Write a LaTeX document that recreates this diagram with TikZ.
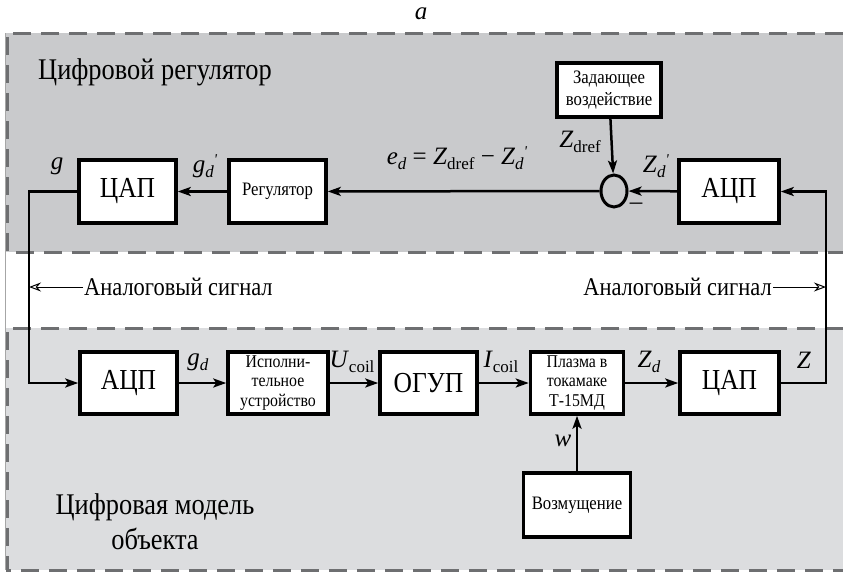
\documentclass[tikz,border=0pt]{standalone}
\usepackage{fontspec}
\setmainfont{Liberation Serif}[FakeStretch=0.88]
\newfontfamily\lblfont{Liberation Serif}
\usetikzlibrary{arrows.meta,shapes.geometric}
\definecolor{topgray}{HTML}{C9CACC}
\definecolor{botgray}{HTML}{DCDDDF}
\definecolor{dashgray}{HTML}{6E6F71}
\newcommand\ssub[1]{\raisebox{-0.45ex}{\fontsize{17}{17}\selectfont #1}}
\newcommand\pmark{\raisebox{8pt}{\fontsize{15}{15}\selectfont\textit{\textquotesingle}}}
\begin{document}
\begin{tikzpicture}[x=1pt,y=-1pt,
  box/.style={draw=black,line width=3.5pt,fill=white,inner sep=0pt,align=center},
  bigbox/.style={box,font=\fontsize{29}{30}\selectfont},
  smallbox/.style={box,font=\fontsize{19}{22}\selectfont},
  tribox/.style={box,font=\fontsize{18}{19.5}\selectfont},
  lbl/.style={inner sep=0pt,font=\lblfont\fontsize{25}{27}\selectfont},
  region/.style={font=\fontsize{30}{35}\selectfont,align=center,inner sep=0pt},
  analog/.style={font=\fontsize{25.5}{27}\selectfont,inner sep=1pt},
  conn/.style={line width=2.5pt,-{Stealth[length=13pt,width=9pt,inset=3pt]}},
  loopline/.style={line width=2.5pt,-{Stealth[length=13pt,width=9pt,inset=3pt]}},
  analogarrow/.style={line width=1pt,-{Stealth[open,length=12pt,width=9pt,inset=4pt]}},
  dsh/.style={draw=dashgray,line width=3pt,dash pattern=on 18pt off 10pt},
]
\useasboundingbox (0,0) rectangle (843,574);
% backgrounds
\fill[topgray] (5,33) rectangle (843,252);
\fill[botgray] (5,328) rectangle (843,570);
\draw[line width=1pt,draw=gray!70] (5,33) -- (5,570);
\draw[dsh] (843,33) -- (7,33) -- (7,252) -- (843,252);
\draw[dsh] (843,328) -- (7,328) -- (7,570) -- (843,570);

% title
\node[lbl] (title) at (421,14) {\textit{a}};

% region labels
\node[region,anchor=west] (reglbl) at (38,72) {Цифровой регулятор};
\node[region] (modlbl) at (155,522) {Цифровая модель\\объекта};

% top row
\node[smallbox,minimum width=104pt,minimum height=54pt] (zad) at (609,90) {Задающее\\воздействие};
\node[draw=black,line width=3pt,ellipse,minimum width=26pt,minimum height=32pt,inner sep=0pt] (sum) at (614,191) {};
\node[bigbox,minimum width=100pt,minimum height=63pt] (adc1) at (729,191.5) {АЦП};
\node[smallbox,minimum width=97pt,minimum height=63pt] (reg) at (277.5,191.5) {Регулятор};
\node[bigbox,minimum width=97pt,minimum height=63pt] (dac1) at (127.5,191.5) {ЦАП};

% bottom row
\node[bigbox,minimum width=97pt,minimum height=62pt] (adc2) at (128.5,383) {АЦП};
\node[tribox,minimum width=100pt,minimum height=62pt] (act) at (278,383) {Исполни-\\тельное\\устройство};
\node[bigbox,minimum width=97pt,minimum height=62pt] (ogup) at (428.5,383) {ОГУП};
\node[tribox,minimum width=93pt,minimum height=62pt] (plasma) at (577,383) {Плазма в\\токамаке\\Т-15МД};
\node[bigbox,minimum width=99pt,minimum height=62pt] (dac2) at (729.5,383) {ЦАП};
\node[smallbox,minimum width=107pt,minimum height=64pt] (voz) at (577,505) {Возмущение};

% loop coordinates
\coordinate (L) at (29,0);
\coordinate (R) at (826,0);

% connectors top
\draw[conn] (zad) -- (sum);
\draw[conn] (adc1) -- (sum);
\draw[conn] (sum) -- (reg);
\draw[conn] (reg) -- (dac1);
\draw[loopline] (dac1.west) -- (dac1.west -| L) -- (L |- adc2.west) -- (adc2.west);
\draw[loopline] (dac2.east) -- (dac2.east -| R) -- (R |- adc1.east) -- (adc1.east);

% connectors bottom
\draw[conn] (adc2) -- (act);
\draw[conn] (act) -- (ogup);
\draw[conn] (ogup) -- (plasma);
\draw[conn] (plasma) -- (dac2);
\draw[conn] (voz) -- (plasma);

% analog signal labels
\node[analog,anchor=west] (an1) at (83,287) {Аналоговый сигнал};
\node[analog,anchor=east] (an2) at (773,287) {Аналоговый сигнал};
\draw[analogarrow] (an1.west) -- (an1.west -| L);
\draw[analogarrow] (an2.east) -- (an2.east -| R);

% signal labels
\node[lbl] (lg) at (57,166) {\textit{g}};
\node[lbl] (lgd1) at (205,166) {\textit{g}\ssub{\textit{d}}\pmark};
\node[lbl] (led) at (457,158) {\textit{e}\ssub{\textit{d}} = \textit{Z}\ssub{dref} − \textit{Z}\ssub{\textit{d}}\pmark};
\node[lbl] (lzref) at (580,142) {\textit{Z}\ssub{dref}};
\node[lbl] (lzd1) at (656,166) {\textit{Z}\ssub{\textit{d}}\pmark};
\node[lbl] (minus) at (636,206) {–};
\node[lbl] (lgd) at (198,362) {\textit{g}\ssub{\textit{d}}};
\node[lbl] (lu) at (352,362) {\textit{U}\ssub{coil}};
\node[lbl] (li) at (501,362) {\textit{I}\ssub{coil}};
\node[lbl] (lzd) at (649,362) {\textit{Z}\ssub{\textit{d}}};
\node[lbl] (lz) at (804,360) {\textit{Z}};
\node[lbl] (lw) at (563,441) {\textit{w}};
\end{tikzpicture}
\end{document}
